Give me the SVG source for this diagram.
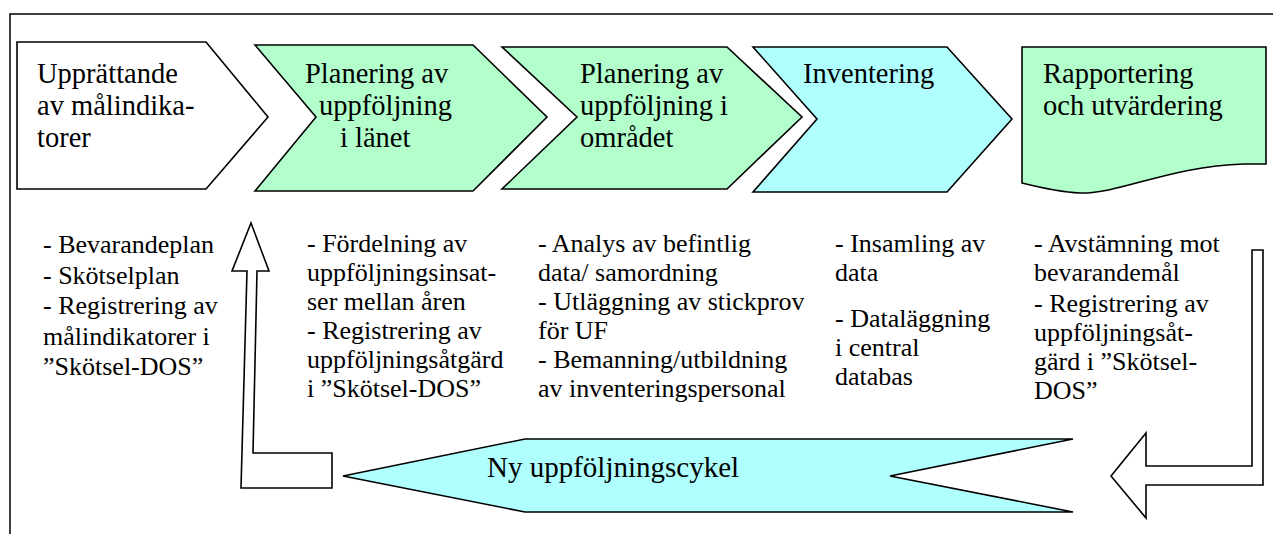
<svg xmlns="http://www.w3.org/2000/svg" width="1273" height="534" viewBox="0 0 1273 534">
<style>
.sh{stroke:#000;stroke-width:1.6;stroke-linejoin:miter}
.w{fill:#fff}
.g{fill:#b3ffcc}
.c{fill:#b0ffff}
.h{font-family:"Liberation Serif","Times New Roman",serif;font-size:28.5px;fill:#000}
.t{font-family:"Liberation Serif","Times New Roman",serif;font-size:26px;fill:#000}
</style>
<rect x="0" y="0" width="1273" height="534" fill="#fff"/>
<path d="M10,534 V14 H1273" fill="none" stroke="#000" stroke-width="1.5"/>
<g id="n1">
<path class="sh w" d="M17,42 H206 L268,117 L206,189 H17 Z"/>
<text class="h" x="37" y="83">Upprättande</text>
<text class="h" x="37" y="115">av målindika-</text>
<text class="h" x="37" y="147">torer</text>
</g>
<g id="n2">
<path class="sh g" d="M255,45 H473 L547,117 L473,191 H255 L316,117 Z"/>
<text class="h" x="305" y="83">Planering av</text>
<text class="h" x="319" y="115">uppföljning</text>
<text class="h" x="340" y="147">i länet</text>
</g>
<g id="n3">
<path class="sh g" d="M502,47 H727 L802,117 L727,189 H502 L577,117 Z"/>
<text class="h" x="580" y="83">Planering av</text>
<text class="h" x="580" y="115">uppföljning i</text>
<text class="h" x="580" y="147">området</text>
</g>
<g id="n4">
<path class="sh c" d="M753,47 H947 L1012,119 L947,192 H753 L817,119 Z"/>
<text class="h" x="803" y="83">Inventering</text>
</g>
<g id="n5">
<path class="sh g" d="M1022,47 H1266 V164 H1244 C1170,166 1120,194 1080,193 C1058,192 1038,187 1022,183 Z"/>
<text class="h" x="1043" y="83">Rapportering</text>
<text class="h" x="1043" y="115">och utvärdering</text>
</g>
<g id="n6">
<path class="sh c" d="M343,476 L525,439 H1073 L890,476 L1073,512 H525 Z"/>
<text class="h" x="487" y="477" style="font-size:29px">Ny uppföljningscykel</text>
</g>
<g id="connectors">
<path class="sh w" d="M251,223 L269,271 H257 L253,453 H332 V488 H241 L247,271 H232 Z"/>
<path class="sh w" d="M1111,476 L1146,433 V466 H1252 V250 H1263 V485 H1146 V518 Z"/>
</g>
<g id="l1">
<text class="t" x="43" y="253">- Bevarandeplan</text>
<text class="t" x="43" y="283.5">- Skötselplan</text>
<text class="t" x="43" y="314">- Registrering av</text>
<text class="t" x="43" y="344.5">målindikatorer i</text>
<text class="t" x="43" y="375">”Skötsel-DOS”</text>
</g>
<g id="l2">
<text class="t" x="307" y="252">- Fördelning av</text>
<text class="t" x="307" y="281">uppföljningsinsat-</text>
<text class="t" x="307" y="310">ser mellan åren</text>
<text class="t" x="307" y="339">- Registrering av</text>
<text class="t" x="307" y="368">uppföljningsåtgärd</text>
<text class="t" x="307" y="397">i ”Skötsel-DOS”</text>
</g>
<g id="l3">
<text class="t" x="538" y="252">- Analys av befintlig</text>
<text class="t" x="538" y="281">data/ samordning</text>
<text class="t" x="538" y="310">- Utläggning av stickprov</text>
<text class="t" x="538" y="339">för UF</text>
<text class="t" x="538" y="368">- Bemanning/utbildning</text>
<text class="t" x="538" y="397">av inventeringspersonal</text>
</g>
<g id="l4">
<text class="t" x="835" y="252">- Insamling av</text>
<text class="t" x="835" y="281">data</text>
<text class="t" x="835" y="327">- Dataläggning</text>
<text class="t" x="835" y="356">i central</text>
<text class="t" x="835" y="385">databas</text>
</g>
<g id="l5">
<text class="t" x="1034" y="252">- Avstämning mot</text>
<text class="t" x="1034" y="281">bevarandemål</text>
<text class="t" x="1034" y="312">- Registrering av</text>
<text class="t" x="1034" y="341">uppföljningsåt-</text>
<text class="t" x="1034" y="370">gärd i ”Skötsel-</text>
<text class="t" x="1034" y="399">DOS”</text>
</g>
</svg>
